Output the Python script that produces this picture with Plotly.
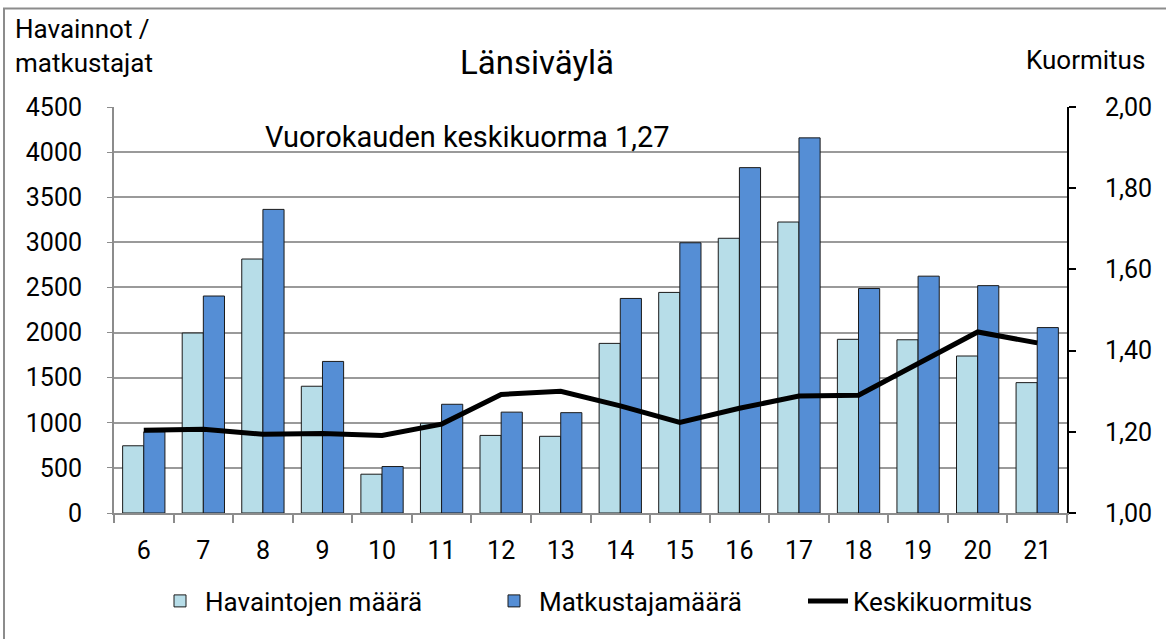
import plotly.graph_objects as go

hours = ["6", "7", "8", "9", "10", "11", "12", "13", "14", "15", "16", "17", "18", "19", "20", "21"]
havainnot = [745, 1995, 2815, 1405, 430, 995, 860, 850, 1880, 2445, 3045, 3225, 1925, 1920, 1740, 1445]
matkustajat = [900, 2405, 3365, 1680, 515, 1205, 1118, 1112, 2378, 2995, 3828, 4158, 2488, 2625, 2520, 2055]
kuormitus = [1.204, 1.206, 1.194, 1.196, 1.191, 1.219, 1.292, 1.300, 1.264, 1.223, 1.258, 1.288, 1.290, 1.367, 1.446, 1.419]

FONT = "Roboto, Liberation Sans, sans-serif"

W, H = 1166, 639
L, R, T, B = 114, 1067, 107, 513

def xp(px):
    return (px - L) / (R - L)

def yp(py):
    return (B - py) / (B - T)

fig = go.Figure()
fig.add_trace(go.Bar(
    x=hours, y=havainnot, name="Havaintojen määrä", legend="legend",
    marker=dict(color="#B7DDE8", line=dict(color="#1a1a1a", width=1)),
))
fig.add_trace(go.Bar(
    x=hours, y=matkustajat, name="Matkustajamäärä", legend="legend2",
    marker=dict(color="#558ED5", line=dict(color="#1a1a1a", width=1)),
))
fig.add_trace(go.Scatter(
    x=hours, y=kuormitus, name="Keskikuormitus", yaxis="y2", legend="legend3",
    mode="lines", line=dict(color="black", width=5),
))

def leg(px_left):
    return dict(orientation="h", xref="container", yref="container",
                x=px_left / W, xanchor="left", y=1 - 601 / H, yanchor="middle",
                font=dict(size=26), itemwidth=40, bgcolor="rgba(0,0,0,0)")

fig.update_layout(
    width=W, height=H,
    margin=dict(l=L, r=W - R, t=T, b=H - B, autoexpand=False),
    paper_bgcolor="white", plot_bgcolor="white",
    font=dict(family=FONT, size=25, color="black"),
    separators=",.",
    barmode="group", bargap=0.29, bargroupgap=0,
    showlegend=True,
    legend=leg(155), legend2=leg(489), legend3=leg(803),
    xaxis=dict(type="category", showgrid=False, showline=True, linecolor="#8c8c8c", linewidth=2,
               ticks="outside", tickson="boundaries", ticklen=8, tickcolor="#8c8c8c", tickwidth=2,
               tickfont=dict(size=25), ticklabelstandoff=14, fixedrange=True),
    yaxis=dict(range=[0, 4500], dtick=500, showgrid=True, gridcolor="#9a9a9a", gridwidth=1.5,
               showline=True, linecolor="#8c8c8c", linewidth=2, ticks="outside", ticklen=5,
               tickcolor="#8c8c8c", tickfont=dict(size=25), zeroline=False, tickformat="d",
               ticklabelstandoff=20),
    yaxis2=dict(range=[1.0, 2.0], dtick=0.2, overlaying="y", side="right", showgrid=False,
                showline=True, linecolor="black", linewidth=2, ticks="outside", ticklen=7,
                tickcolor="black", tickwidth=2, tickformat=".2f", tickfont=dict(size=25),
                zeroline=False, ticklabelstandoff=24),
)

fig.add_annotation(text="Länsiväylä", xref="paper", yref="paper", x=xp(537), y=yp(63),
                   xanchor="center", yanchor="middle", showarrow=False, font=dict(size=33))
fig.add_annotation(text="Havainnot /<br>matkustajat", xref="paper", yref="paper", x=xp(13), y=yp(12),
                   xanchor="left", yanchor="top", align="left", showarrow=False, font=dict(size=26))
fig.add_annotation(text="Kuormitus", xref="paper", yref="paper", x=xp(1147), y=yp(60),
                   xanchor="right", yanchor="middle", showarrow=False, font=dict(size=26))
fig.add_annotation(text="Vuorokauden keskikuorma 1,27", xref="paper", yref="paper", x=xp(263), y=yp(137),
                   xanchor="left", yanchor="middle", showarrow=False, font=dict(size=29))

fig.add_shape(type="rect", xref="paper", yref="paper", x0=xp(4), x1=xp(1400), y0=yp(800), y1=yp(8.5),
              line=dict(color="#8c8c8c", width=2), fillcolor="rgba(0,0,0,0)", layer="below")

fig.write_html("out.html", config={"displayModeBar": False},
               post_script="document.body.style.margin='0';document.body.style.overflow='hidden';")
